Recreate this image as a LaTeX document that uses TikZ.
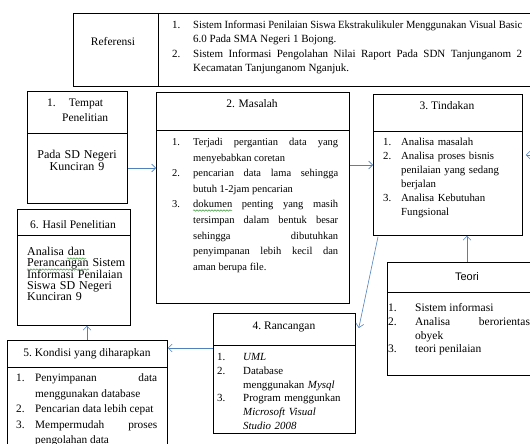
\documentclass[tikz,border=0pt]{standalone}
\usepackage{graphicx}
\usepackage{fontspec}
\setmainfont{Liberation Serif}
\newfontfamily\teorifont{Liberation Sans}
\usetikzlibrary{arrows.meta,calc,decorations.pathmorphing}
\definecolor{flowblue}{HTML}{4F81BD}
\definecolor{spellgreen}{HTML}{3C9A3C}
% numbered paragraph with hanging indent: #1 indent, #2 label, #3 text
\newcommand{\numitem}[3]{\noindent\hangindent=#1\hangafter=1\makebox[#1][l]{#2}#3\par}
\hbadness=10000
\begin{document}
\begin{tikzpicture}[x=1pt,y=-1pt,
  frame/.style={draw=black, line width=0.8pt, fill=white, inner sep=0pt, anchor=north west},
  divider/.style={draw=black, line width=0.8pt},
  head/.style={anchor=base, inner sep=0pt, font=\fontsize{11.5}{14}\selectfont},
  body/.style={anchor=base west, inner sep=0pt},
  flow/.style={draw=flowblue, line width=0.6pt, -{Straight Barb[length=4pt,width=8pt]}},
  squiggle/.style={draw=spellgreen, line width=0.5pt, decorate,
                   decoration={snake, amplitude=0.7pt, segment length=3pt}}]
\useasboundingbox (0,0) rectangle (530,444);
\begin{scope}
\clip (0,0) rectangle (530,444);

% ---------- frames ----------
\node[frame, minimum width=467, minimum height=73] (ref) at (73,13) {};
\node[frame, minimum width=100, minimum height=112] (b1) at (27,91) {};
\node[frame, minimum width=193, minimum height=211] (b2) at (156,92) {};
\node[frame, minimum width=149, minimum height=141] (b3) at (373,94) {};
\node[frame, minimum width=113, minimum height=116] (b6) at (17,209) {};
\node[frame, minimum width=153, minimum height=113] (teori) at (387,262) {};
\node[frame, minimum width=142, minimum height=120] (b4) at (213,313) {};
\node[frame, minimum width=160, minimum height=120] (b5) at (7,340) {};

% ---------- dividers ----------
\draw[divider] (ref.north -| 158,0) -- (ref.south -| 158,0);
\draw[divider] (b1.west |- 0,133) -- (b1.east |- 0,133);
\draw[divider] (b2.west |- 0,130) -- (b2.east |- 0,130);
\draw[divider] (b3.west |- 0,131) -- (b3.east |- 0,131);
\draw[divider] (b6.west |- 0,235) -- (b6.east |- 0,235);
\draw[divider] (teori.west |- 0,292) -- (teori.east |- 0,292);
\draw[divider] (b4.west |- 0,345) -- (b4.east |- 0,345);
\draw[divider] (b5.west |- 0,367) -- (b5.east |- 0,367);

% ---------- references ----------
\node[head] (reflabel) at (113,45.5) {Referensi};
\node[body, text width=350, align=justify, font=\fontsize{11}{14.3}\selectfont] (reftext) at (172,28.5)
  {\numitem{21pt}{1.}{\resizebox{329pt}{\height}{Sistem Informasi Penilaian Siswa Ekstrakulikuler Menggunakan Visual Basic}\linebreak 6.0 Pada SMA Negeri 1 Bojong.}%
   \numitem{21pt}{2.}{Sistem Informasi Pengolahan Nilai Raport Pada SDN Tanjunganom 2\linebreak Kecamatan Tanjunganom Nganjuk.}};

% ---------- 1. Tempat Penelitian ----------
\node[body, text width=80, align=left, font=\fontsize{11.5}{15}\selectfont] (h1) at (47,106.5)
  {1.\hspace{13pt}Tempat\newline\hspace*{15pt}Penelitian};
\node[anchor=base, inner sep=0pt, text width=90, align=center, font=\fontsize{12}{12}\selectfont] (t1) at (77,158.5)
  {Pada SD Negeri\\Kunciran 9};

% ---------- 2. Masalah ----------
\node[head] (h2) at (252,107.5) {2. Masalah};
\node[body, text width=166, align=justify, font=\fontsize{10.5}{15.6}\selectfont] (t2) at (172,145.5)
  {\numitem{21pt}{1.}{Terjadi pergantian data yang\linebreak menyebabkan coretan}%
   \numitem{21pt}{2.}{pencarian data lama sehingga\linebreak butuh 1-2jam pencarian}%
   \numitem{21pt}{3.}{dokumen penting yang masih\linebreak tersimpan dalam bentuk besar\linebreak sehingga dibutuhkan\linebreak penyimpanan lebih kecil dan\linebreak aman berupa file.}};

% ---------- 3. Tindakan ----------
\node[head] (h3) at (447,109.5) {3.\ Tindakan};
\node[body, text width=125, align=left, font=\fontsize{10.8}{13.9}\selectfont] (t3) at (383,145.5)
  {\numitem{18pt}{1.}{Analisa masalah}%
   \numitem{18pt}{2.}{Analisa proses bisnis\newline penilaian yang sedang\newline berjalan}%
   \numitem{18pt}{3.}{Analisa Kebutuhan\newline Fungsional}};

% ---------- 6. Hasil Penelitian ----------
\node[head] (h6) at (73,228.5) {6. Hasil Penelitian};
\node[body, text width=110, align=left, font=\fontsize{12}{10.9}\selectfont] (t6) at (27,255.5)
  {Analisa dan\newline Perancangan Sistem\newline Informasi Penilaian\newline Siswa SD Negeri\newline Kunciran 9};

% ---------- Teori ----------
\node[head, font=\teorifont\fontsize{11}{14}\selectfont] (hteori) at (467,280.5) {Teori};
\node[body, text width=145, align=justify, font=\fontsize{11.5}{13.8}\selectfont] (tteori) at (388,311.5)
  {\numitem{27pt}{1.}{Sistem informasi}%
   \numitem{27pt}{2.}{Analisa berorientasi\linebreak obyek}%
   \numitem{27pt}{3.}{teori penilaian}};

% ---------- 4. Rancangan ----------
\node[head] (h4) at (284,329.5) {4.\ Rancangan};
\node[body, text width=135, align=left, font=\fontsize{10.9}{13.8}\selectfont] (t4) at (217,360.5)
  {\numitem{26pt}{1.}{\textit{UML}}%
   \numitem{26pt}{2.}{Database\newline menggunakan \textit{Mysql}}%
   \numitem{26pt}{3.}{Program menggunkan\newline \textit{Microsoft Visual}\newline \textit{Studio 2008}}};

% ---------- 5. Kondisi yang diharapkan ----------
\node[head] (h5) at (87,356.5) {5.\ Kondisi yang diharapkan};
\node[body, text width=141, align=justify, font=\fontsize{11.3}{15.5}\selectfont] (t5) at (16,381.5)
  {\numitem{19pt}{1.}{Penyimpanan data\linebreak menggunakan database}%
   \numitem{19pt}{2.}{Pencarian data lebih cepat}%
   \numitem{19pt}{3.}{Mempermudah proses\linebreak pengolahan data}};

% ---------- spell-check squiggles ----------
\draw[squiggle] (67,258.5) -- (86,258.5);
\draw[squiggle] (27,269.5) -- (89,269.5);
\draw[squiggle] (193,210.5) -- (232,210.5);

% ---------- connectors ----------
\coordinate (rightin) at (530,155);
\draw[flow] (b1.east |- 0,168) -- (b2.west |- 0,168);
\draw[flow] (b2.east |- 0,165) -- (b3.west |- 0,165);
\draw[flow] (rightin) -- ($(b3.east |- 0,155)+(3,0)$);
\draw[flow] (teori.north -| 467,0) -- (b3.south -| 467,0);
\draw[flow] ($(b3.south west)+(5,1)$) -- ($(b4.east |- 0,328)+(3,0)$);
\draw[flow] (b4.west |- 0,348) -- (b5.east |- 0,348);
\draw[flow] (b5.north -| 87,0) -- (b6.south -| 87,0);
\end{scope}
\end{tikzpicture}
\end{document}
